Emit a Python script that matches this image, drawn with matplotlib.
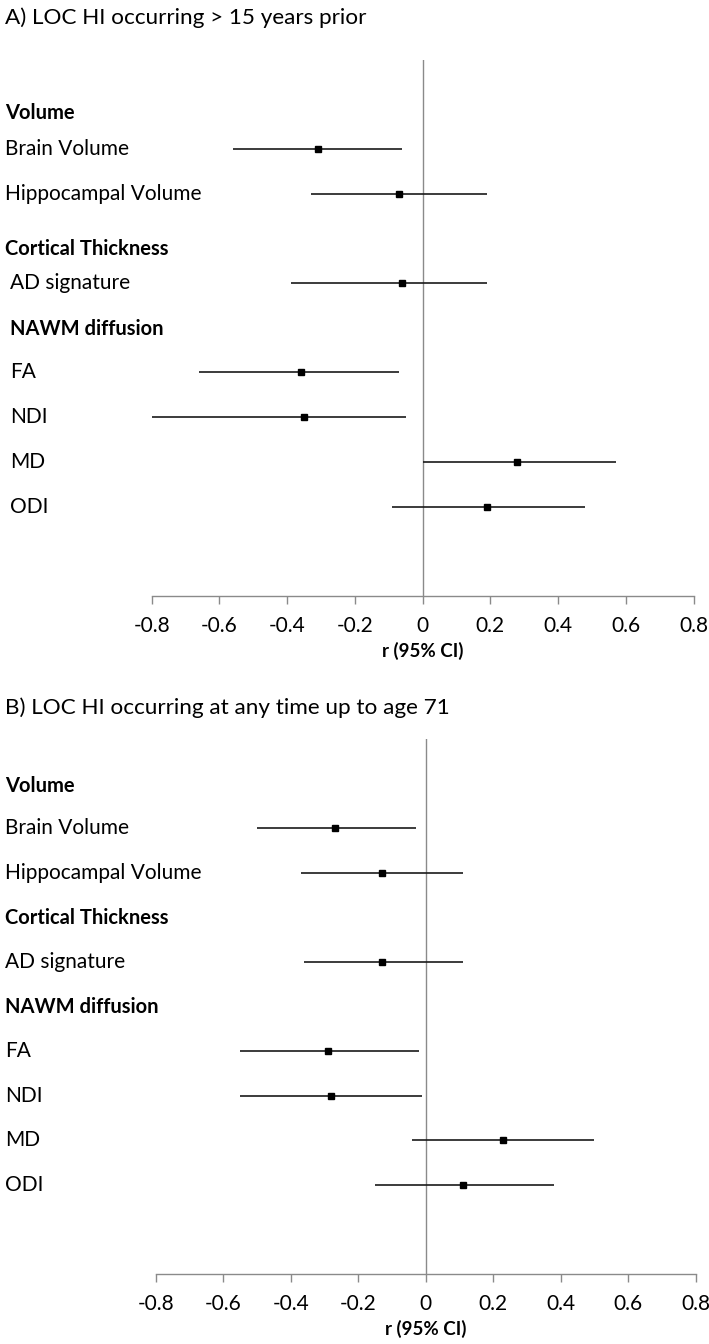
import matplotlib
matplotlib.use("Agg")
import matplotlib.pyplot as plt
import matplotlib.transforms as mtransforms

plt.rcParams['font.family'] = ['Lato', 'DejaVu Sans']

# ---- data ----
outcomes = ["Brain Volume", "Hippocampal Volume", "AD signature", "FA", "NDI", "MD", "ODI"]
headers = ["Volume", "Cortical Thickness", "NAWM diffusion"]
ticks = [-0.8, -0.6, -0.4, -0.2, 0, 0.2, 0.4, 0.6, 0.8]
tick_labels = ["-0.8", "-0.6", "-0.4", "-0.2", "0", "0.2", "0.4", "0.6", "0.8"]

titles = ["A) LOC HI occurring > 15 years prior",
          "B) LOC HI occurring at any time up to age 71"]

r_a = [-0.31, -0.07, -0.06, -0.36, -0.35, 0.28, 0.19]
lo_a = [-0.56, -0.33, -0.39, -0.66, -0.80, 0.00, -0.09]
hi_a = [-0.06, 0.19, 0.19, -0.07, -0.05, 0.57, 0.48]

r_b = [-0.27, -0.13, -0.13, -0.29, -0.28, 0.23, 0.11]
lo_b = [-0.50, -0.37, -0.36, -0.55, -0.55, -0.04, -0.15]
hi_b = [-0.03, 0.11, 0.11, -0.02, -0.01, 0.50, 0.38]

xlabel = "r (95% CI)"

# row layout (positions in row units, top to bottom)
row_pos = [0, 1, 3, 5, 6, 7, 8]
header_pos_a = [-0.8, 2.23, 4.02]
header_pos_b = [-0.95, 2.02, 4.0]
label_x_a = [5, 5, 10, 10, 10, 10, 10]
header_x_a = [5, 5, 10]
label_x_b = [5, 5, 5, 5, 5, 5, 5]
header_x_b = [5, 5, 5]

W, H = 709, 1344
fig = plt.figure(figsize=(W / 100, H / 100), dpi=100)

def px_axes(left, right, top, bottom):
    return fig.add_axes([left / W, 1 - bottom / H, (right - left) / W, (bottom - top) / H])

panels = [
    dict(ax=px_axes(151.7, 693.5, 59.5, 596), r=r_a, lo=lo_a, hi=hi_a, title=titles[0],
         title_y=18, hpos=header_pos_a, lx=label_x_a, hx=header_x_a),
    dict(ax=px_axes(155.7, 695.7, 739.3, 1274), r=r_b, lo=lo_b, hi=hi_b, title=titles[1],
         title_y=708, hpos=header_pos_b, lx=label_x_b, hx=header_x_b),
]

for p in panels:
    ax = p['ax']
    ax.set_xlim(-0.8, 0.8)
    ax.set_ylim(10, -2)
    for s in ['top', 'right', 'left']:
        ax.spines[s].set_visible(False)
    ax.spines['bottom'].set_color('#8a8a8a')
    ax.spines['bottom'].set_linewidth(1.0)
    ax.spines['bottom'].set_clip_on(False)
    ax.set_yticks([])
    ax.set_xticks(ticks)
    ax.set_xticklabels(tick_labels, fontsize=15)
    ax.tick_params(axis='x', direction='out', length=6, width=1.0, color='#8a8a8a', pad=8.5)
    ax.set_xlabel(xlabel, fontsize=13.5, fontweight='bold', labelpad=4.5)
    ax.axvline(0, color='#8a8a8a', lw=1.0, zorder=1)
    ax.hlines(row_pos, p['lo'], p['hi'], color='#1a1a1a', lw=1.2, zorder=2)
    ax.plot(p['r'], row_pos, ls='none', marker='s', ms=4.2, color='black', zorder=3)

    tr = mtransforms.blended_transform_factory(fig.transFigure, ax.transData)
    for name, y, x in zip(outcomes, row_pos, p['lx']):
        ax.text(x / W, y, name, transform=tr, fontsize=15, va='center', ha='left')
    for name, y, x in zip(headers, p['hpos'], p['hx']):
        ax.text(x / W, y, name, transform=tr, fontsize=14.5, va='center', ha='left',
                fontweight='bold')
    fig.text(5 / W, 1 - p['title_y'] / H, p['title'], fontsize=16.2, va='center', ha='left')

fig.savefig("out.png", dpi=100)
